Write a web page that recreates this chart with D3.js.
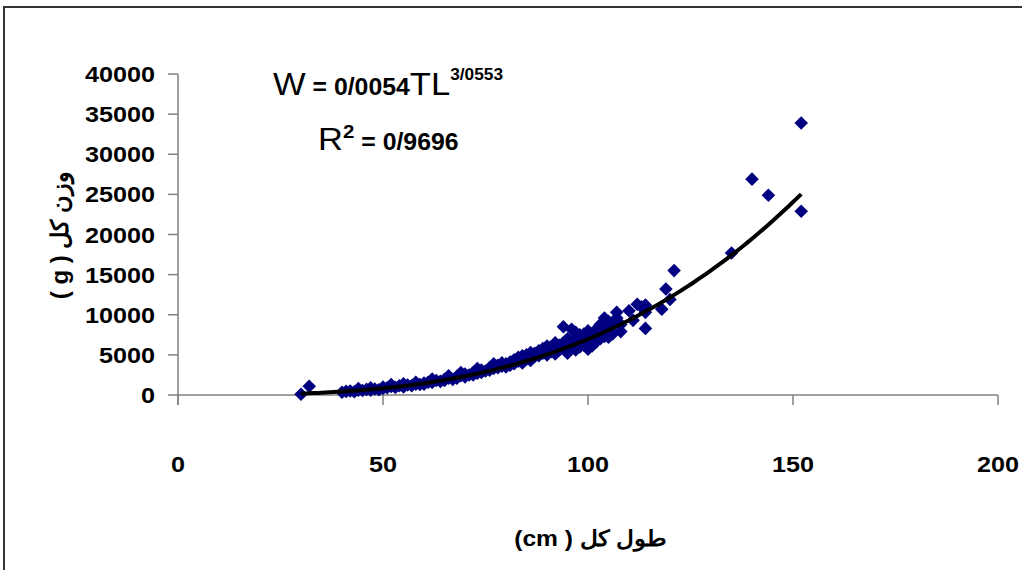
<!DOCTYPE html>
<html>
<head>
<meta charset="utf-8">
<script src="https://cdn.jsdelivr.net/npm/d3@7"></script>
<style>
  body { margin: 0; background: #fff; }
  svg { display: block; font-family: 'Liberation Sans', Arial, sans-serif; }
</style>
</head>
<body>
<div id="chart"></div>
<script>
// total length (cm) and total weight (g)
const lengths = [
  30, 32, 40, 41, 42, 43, 44, 45, 46, 47, 48, 49, 50, 50, 51, 52, 53, 54, 55, 56,
  57, 58, 59, 60, 60, 61, 62, 63, 64, 65, 65, 66, 67, 68, 68, 69, 70, 70, 71, 72,
  72, 73, 74, 74, 75, 76, 76, 77, 78, 78, 79, 80, 80, 81, 81, 82, 82, 83, 83, 84,
  84, 85, 85, 86, 86, 87, 87, 88, 88, 89, 89, 90, 90, 91, 91, 92, 92, 93, 93, 94,
  94, 94, 95, 95, 95, 96, 96, 96, 97, 97, 97, 98, 98, 98, 99, 99, 99, 100, 100, 100,
  100, 101, 101, 101, 102, 102, 102, 103, 103, 103, 104, 104, 104, 105, 105, 105, 106, 106, 107, 107,
  108, 108, 110, 111, 112, 113, 114, 114, 114, 118, 119, 120, 121, 135, 140, 144, 152, 152,
  44, 47, 52, 55, 58, 62, 66, 69, 73, 77, 79, 84, 86, 90, 92
];
const weights = [
  100, 1100, 350, 450, 500, 400, 600, 550, 700, 600, 750, 650, 800, 1000, 900, 1050, 950, 1150, 1000, 1250,
  1150, 1350, 1300, 1500, 1350, 1600, 1550, 1800, 1700, 1950, 1800, 2100, 1950, 2300, 2100, 2400, 2250, 2600, 2500, 2800,
  2500, 2700, 3100, 2800, 3000, 3400, 3100, 3300, 3700, 3400, 3600, 3500, 3900, 4100, 3700, 4400, 3900, 4200, 4700, 4500,
  4000, 5000, 4500, 4700, 4300, 5200, 4800, 5500, 4900, 5200, 5800, 5000, 5600, 5400, 6000, 5800, 5100, 6200, 5600, 8500,
  6500, 5800, 7000, 6000, 5200, 8200, 6700, 6000, 7800, 6400, 5600, 7500, 6800, 6000, 7600, 7000, 6200, 8000, 7200, 6400,
  5700, 7600, 6800, 6100, 8200, 7400, 6600, 8800, 7800, 7000, 9600, 8400, 7300, 9200, 8000, 7200, 8600, 7600, 10300, 9600,
  8800, 7900, 10500, 9300, 11300, 11000, 10300, 8300, 11200, 10700, 13200, 11900, 15500, 17700, 26900, 24900, 33900, 22900,
  800, 900, 1300, 1400, 1600, 2000, 2400, 2800, 3300, 3900, 4000, 4900, 5300, 6100, 6500
];

// power trendline W = a * TL^b (Excel trendline, as printed on the chart)
const fitA = 0.0054;
const fitB = 3.0553;
const fitRange = [30, 152];

const xTicks = [0, 50, 100, 150, 200];
const yTicks = [0, 5000, 10000, 15000, 20000, 25000, 30000, 35000, 40000];

const xTitle = 'طول کل ( cm)';
const yTitle = 'وزن کل ( g )';

const W = 1022;
const H = 570;
const stretch = 1.12;
const axisColor = '#808080';

const svg = d3.select('#chart')
  .append('svg')
  .attr('width', W)
  .attr('height', H);

// chart frame
svg.append('rect')
  .attr('x', 4)
  .attr('y', 7)
  .attr('width', 1040)
  .attr('height', 600)
  .attr('fill', 'none')
  .attr('stroke', '#333')
  .attr('stroke-width', 2);

const x = d3.scaleLinear().domain([0, 200]).range([178, 998]);
const y = d3.scaleLinear().domain([0, 40000]).range([395, 74]);

// text helper, glyphs in the reference are slightly wide
const label = (g, px, py, txt, size, weight, anchor) =>
  g.append('text')
    .attr('transform', `translate(${px},${py}) scale(${stretch},1)`)
    .attr('text-anchor', anchor || 'start')
    .style('font-size', `${size}px`)
    .style('font-weight', weight || 'bold')
    .text(txt);

// y axis
const gy = svg.append('g');
gy.append('line')
  .attr('x1', x(0)).attr('x2', x(0))
  .attr('y1', y(40000)).attr('y2', y(0) + 10)
  .attr('stroke', axisColor).attr('stroke-width', 1.5);
yTicks.forEach(t => {
  gy.append('line')
    .attr('x1', x(0) - 10).attr('x2', x(0))
    .attr('y1', y(t)).attr('y2', y(t))
    .attr('stroke', axisColor).attr('stroke-width', 1.5);
  label(gy, 155, y(t) + 8, t, 22.5, 'bold', 'end');
});

// x axis
const gx = svg.append('g');
gx.append('line')
  .attr('x1', x(0)).attr('x2', x(200))
  .attr('y1', y(0)).attr('y2', y(0))
  .attr('stroke', axisColor).attr('stroke-width', 1.5);
xTicks.forEach(t => {
  gx.append('line')
    .attr('x1', x(t)).attr('x2', x(t))
    .attr('y1', y(0)).attr('y2', y(0) + 10)
    .attr('stroke', axisColor).attr('stroke-width', 1.5);
  label(gx, x(t), 472, t, 22.5, 'bold', 'middle');
});

// points
const pts = lengths.map((l, i) => ({ l, w: weights[i] }));
svg.append('g')
  .selectAll('path')
  .data(pts)
  .enter()
  .append('path')
  .attr('d', d3.symbol(d3.symbolSquare, 92))
  .attr('transform', d => `translate(${x(d.l)},${y(d.w)}) rotate(45)`)
  .attr('fill', '#000080');

// trendline
const fitPts = d3.range(fitRange[0], fitRange[1] + 0.5, 1)
  .map(l => [l, fitA * Math.pow(l, fitB)]);
svg.append('path')
  .datum(fitPts)
  .attr('d', d3.line().x(d => x(d[0])).y(d => y(d[1])))
  .attr('fill', 'none')
  .attr('stroke', '#000')
  .attr('stroke-width', 4);

// equation
const eq = svg.append('text')
  .attr('transform', `translate(273,95) scale(1.08,1)`)
  .style('font-size', '32px');
eq.append('tspan').text('W');
eq.append('tspan').style('font-weight', 'bold').style('font-size', '23px').text(' = 0/0054');
eq.append('tspan').text('TL');
eq.append('tspan').style('font-weight', 'bold').style('font-size', '16px').attr('dy', -15).text('3/0553');

const r2 = svg.append('text')
  .attr('transform', `translate(318,150) scale(1.08,1)`)
  .style('font-size', '32px');
r2.append('tspan').text('R');
r2.append('tspan').style('font-weight', 'bold').style('font-size', '19px').attr('dy', -12).text('2');
r2.append('tspan').style('font-weight', 'bold').style('font-size', '23px').attr('dy', 12).text(' = 0/9696');

// axis titles
svg.append('text')
  .attr('transform', `translate(590,546) scale(${stretch},1)`)
  .attr('text-anchor', 'middle')
  .attr('direction', 'rtl')
  .style('font-size', '22px')
  .style('font-weight', 'bold')
  .text(xTitle);

svg.append('text')
  .attr('transform', 'translate(68,235) rotate(-90)')
  .attr('text-anchor', 'middle')
  .attr('direction', 'rtl')
  .style('font-size', '24px')
  .style('font-weight', 'bold')
  .text(yTitle);
</script>
</body>
</html>
